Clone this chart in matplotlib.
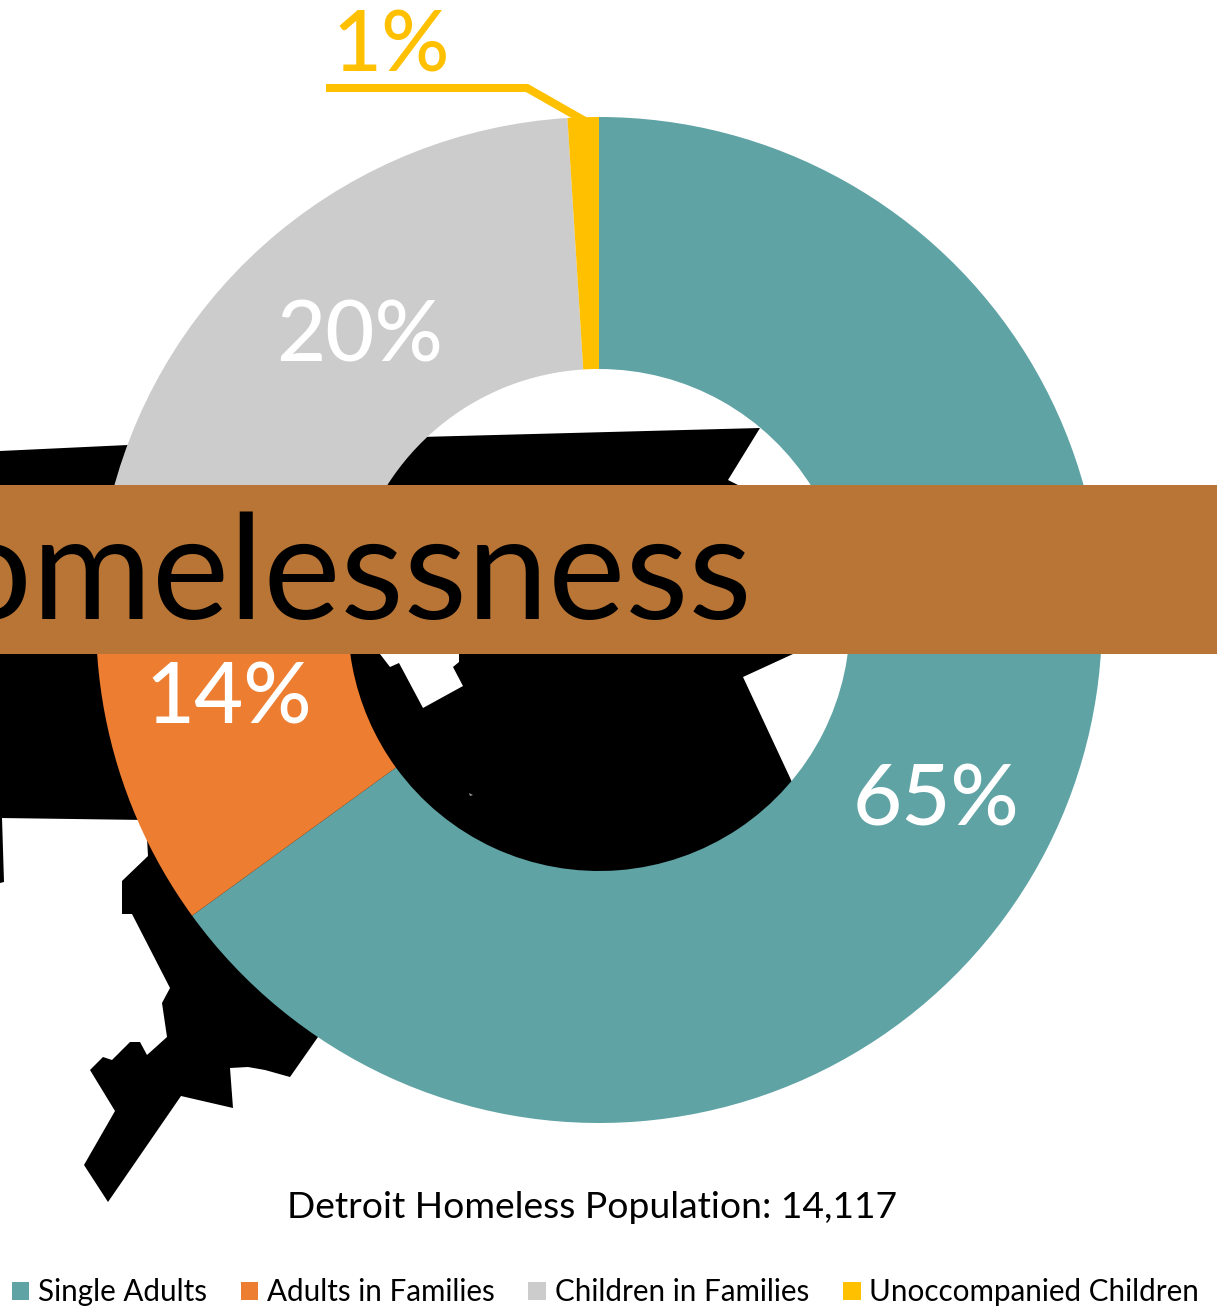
import matplotlib
matplotlib.use("Agg")
import numpy as np
import matplotlib.pyplot as plt
from matplotlib.patches import Polygon, Rectangle

W, H = 1217, 1309

# population shares, clockwise from twelve o'clock
categories = ["Single Adults", "Adults in Families", "Children in Families", "Unoccompanied Children"]
shares = [65, 14, 20, 1]
colors = ["#5FA3A5", "#ED7D31", "#CCCCCC", "#FFC000"]
label_colors = ["white", "white", "white", "#FFC000"]
label_xy = [(936, 801), (229, 699), (360, 338), (391, 48)]
population_title = "Detroit Homeless Population: 14,117"
banner_text = "Homelessness"

# city outline behind the ring, in pixel coordinates from the top left
city_outline = [
    (0, 451), (128, 445), (420, 437), (760, 428), (728, 480), (742, 487), (793, 654),
    (743, 677), (792, 782), (800, 900), (318, 1037), (290, 1077), (265, 1070), (248, 1067),
    (230, 1068), (233, 1108), (181, 1096), (108, 1202), (84, 1165), (115, 1111), (90, 1070),
    (103, 1057), (112, 1060), (130, 1042), (140, 1042), (147, 1055), (167, 1037), (162, 1003),
    (170, 988), (132, 914), (122, 914), (122, 881), (148, 856), (146, 820), (0, 818),
]
city_sliver = [(0, 818), (2, 818), (4, 882), (0, 883)]
city_notch = [
    (380, 654), (390, 667), (399, 663), (423, 708), (463, 686), (453, 667), (459, 662), (459, 654),
]
city_speck = [(469, 793), (473, 795), (470, 796)]
leader_line = [(326, 88), (527, 88), (585, 121)]


def flip(points):
    return [(x, H - y) for x, y in points]


plt.rcParams["font.family"] = ["Lato", "DejaVu Sans"]

fig = plt.figure(figsize=(W / 100, H / 100), dpi=100)
ax = fig.add_axes([0, 0, 1, 1])

ax.add_patch(Polygon(flip(city_outline), closed=True, fc="black", ec="none", zorder=0))
ax.add_patch(Polygon(flip(city_sliver), closed=True, fc="black", ec="none", zorder=0))
ax.add_patch(Polygon(flip(city_notch), closed=True, fc="white", ec="none", zorder=0.5))
ax.add_patch(Polygon(flip(city_speck), closed=True, fc="#999999", ec="none", zorder=0.5))

wedges, _ = ax.pie(
    shares, colors=colors, startangle=90, counterclock=False, frame=True,
    center=(599, H - 620), radius=503, wedgeprops={"width": 252, "linewidth": 0},
)
ax.set_xlim(0, W)
ax.set_ylim(0, H)
ax.set_aspect("auto")
ax.axis("off")

for v, c, (x, y) in zip(shares, label_colors, label_xy):
    ax.text(x, H - y, f"{v}%", color=c, fontsize=61, fontweight="medium",
            ha="center", va="center", zorder=5)

xs, ys = zip(*flip(leader_line))
ax.plot(xs, ys, color="#FFC000", lw=5.8, solid_joinstyle="miter", solid_capstyle="butt", zorder=0.8)

# banner across the middle, its word runs off the left edge
ax.add_patch(Rectangle((0, H - 654), W, 169, fc="#B87535", ec="none", zorder=3))
ax.text(752, H - 619, banner_text, color="black", fontsize=105, fontweight="normal",
        ha="right", va="baseline", zorder=4)

ax.text(592, H - 1208, population_title, color="black", fontsize=26.8, fontweight="normal",
        ha="center", va="center")

ax.legend(
    wedges, categories, ncols=4, frameon=False, loc="lower center",
    bbox_to_anchor=(0.4975, 0.002), fontsize=21.3, handlelength=0.6, handleheight=0.6,
    handletextpad=0.3, columnspacing=1.13, borderpad=0, borderaxespad=0,
)

fig.savefig("out.png", dpi=100, facecolor="white")
